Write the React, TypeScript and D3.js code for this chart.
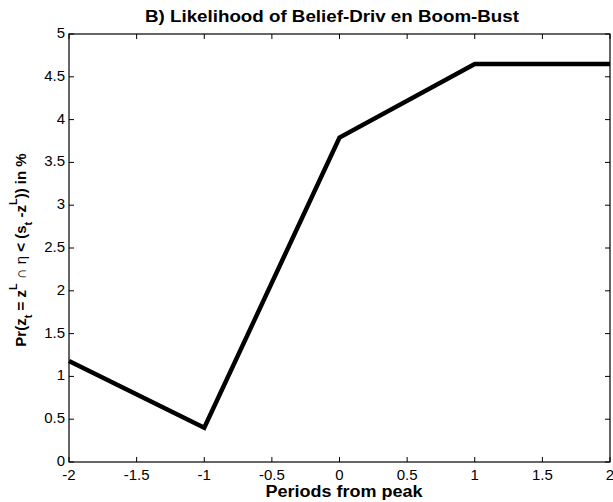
import React from "react";
import * as d3 from "d3";

const periods = [-2, -1, 0, 1, 2];
const likelihood = [1.18, 0.4, 3.79, 4.65, 4.65];
const xTicks = [-2, -1.5, -1, -0.5, 0, 0.5, 1, 1.5, 2];
const yTicks = [0, 0.5, 1, 1.5, 2, 2.5, 3, 3.5, 4, 4.5, 5];

const W = 613, H = 502;
const L = 69, R = 610, T = 34, B = 462;

export default function App() {
  const x = d3.scaleLinear().domain([-2, 2]).range([L, R]);
  const y = d3.scaleLinear().domain([0, 5]).range([B, T]);
  const line = d3.line<number>().x((_, i) => x(periods[i])).y((d) => y(d));
  const font = "Liberation Sans, Arial, sans-serif";
  const tl = 5;
  return (
    <svg width={W} height={H} style={{ position: "absolute", left: 0, top: 0 }} fontFamily={font}>
      <rect x={0} y={0} width={W} height={H} fill="white" />
      <g stroke="black" strokeWidth={1}>
        {xTicks.map((t) => (
          <g key={"x" + t}>
            <line x1={x(t)} x2={x(t)} y1={B} y2={B - tl} />
            <line x1={x(t)} x2={x(t)} y1={T} y2={T + tl} />
          </g>
        ))}
        {yTicks.map((t) => (
          <g key={"y" + t}>
            <line x1={L} x2={L + tl} y1={y(t)} y2={y(t)} />
            <line x1={R} x2={R - tl} y1={y(t)} y2={y(t)} />
          </g>
        ))}
      </g>
      <rect x={L} y={T} width={R - L} height={B - T} fill="none" stroke="black" strokeWidth={1.2} />
      <path d={line(likelihood) || ""} fill="none" stroke="black" strokeWidth={4.5} strokeLinejoin="miter" />
      <g fontSize={15} fill="black">
        {xTicks.map((t) => (
          <text key={"xl" + t} x={x(t)} y={480} textAnchor="middle">{t}</text>
        ))}
        {yTicks.map((t) => (
          <text key={"yl" + t} x={L - 4} y={y(t) + 4} textAnchor="end">{t}</text>
        ))}
      </g>
      <text x={332} y={22} textAnchor="middle" fontSize={17} fontWeight="bold" textLength={374} lengthAdjust="spacingAndGlyphs">
        B) Likelihood of Belief-Driv en Boom-Bust
      </text>
      <text x={344} y={497} textAnchor="middle" fontSize={16} fontWeight="bold" textLength={157} lengthAdjust="spacingAndGlyphs">
        Periods from peak
      </text>
      <text transform={`translate(26,250) rotate(-90)`} textAnchor="middle" fontSize={15} fontWeight="bold">
        <tspan>Pr(z</tspan>
        <tspan fontSize={11} dy={6}>t</tspan>
        <tspan dy={-6}> = z</tspan>
        <tspan fontSize={11} dy={-9}>L</tspan>
        <tspan dy={9} fontWeight="normal"> ∩ η </tspan>
        <tspan>&lt; (s</tspan>
        <tspan fontSize={11} dy={6}>t</tspan>
        <tspan dy={-6}> -z</tspan>
        <tspan fontSize={11} dy={-9}>L</tspan>
        <tspan dy={9}>)) in %</tspan>
      </text>
    </svg>
  );
}
